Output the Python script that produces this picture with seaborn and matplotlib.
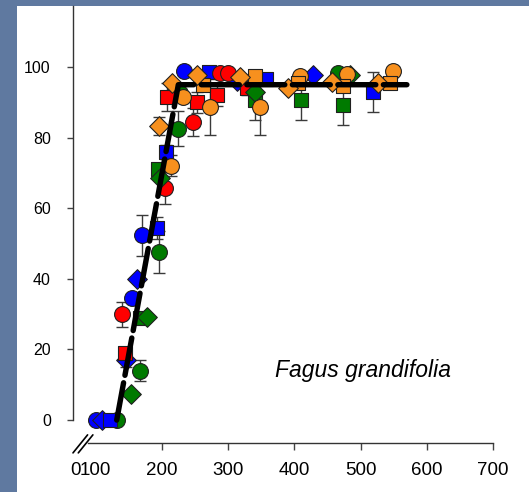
import matplotlib
matplotlib.use("Agg")
import matplotlib.pyplot as plt
from matplotlib.patches import Rectangle
import seaborn as sns
import pandas as pd

# ---- data: germination (%) vs. thermal time, Fagus grandifolia ----
# each series: x values, y values, y error (0 = no visible bar)
blue_circle_x = [101, 155, 170, 233]
blue_circle_y = [0, 34.6, 52.4, 99]
blue_circle_e = [0, 0, 5.8, 0]

blue_diamond_x = [110, 146, 163, 313, 428]
blue_diamond_y = [0, 17, 40, 96, 97.7]
blue_diamond_e = [0, 2, 0, 0, 0]

blue_square_x = [122, 193, 206, 271, 357, 519]
blue_square_y = [0, 54.4, 76, 98.6, 96.6, 93]
blue_square_e = [0, 3, 2, 0, 0, 5.7]

red_circle_x = [140, 205, 247, 288, 300]
red_circle_y = [30, 65.7, 84.5, 98.3, 98.3]
red_circle_e = [3.5, 4.5, 4, 0, 0]

red_square_x = [144, 208, 253, 283, 329]
red_square_y = [19, 91.5, 90, 92, 94]
red_square_e = [1.5, 4, 3, 3, 2]

green_circle_x = [132, 167, 196, 225, 227, 466]
green_circle_y = [0, 14, 47.6, 82.5, 92.6, 98.3]
green_circle_e = [0, 3, 6, 5, 0, 0]

green_square_x = [167, 194, 341, 410, 473]
green_square_y = [29, 71, 90.6, 90.6, 89.2]
green_square_e = [0, 0, 5.6, 5.7, 5.7]

green_diamond_x = [153, 178, 197, 341, 484]
green_diamond_y = [7.4, 29.2, 68.6, 93, 97.7]
green_diamond_e = [0, 0, 0, 0, 0]

orange_circle_x = [214, 232, 273, 348, 409, 479, 549]
orange_circle_y = [72, 91.5, 88.7, 88.7, 97.5, 98, 99]
orange_circle_e = [3, 0, 8, 8, 0, 0, 0]

orange_square_x = [262, 340, 406, 473, 545]
orange_square_y = [95, 97.5, 95.4, 94.6, 95.5]
orange_square_e = [0, 0, 0, 0, 0]

orange_diamond_x = [196, 215, 253, 318, 390, 457, 526]
orange_diamond_y = [83.3, 95.4, 97.7, 97.2, 94, 95.7, 95.5]
orange_diamond_e = [2.6, 0, 0, 0, 0, 0, 0]

# broken-stick fit
fit_x = [132, 225, 570]
fit_y = [0, 95, 95]

x_ticks = [69.5, 100, 200, 300, 400, 500, 600, 700]
x_tick_labels = ["0", "100", "200", "300", "400", "500", "600", "700"]
y_ticks = [0, 20, 40, 60, 80, 100]

series = [
    ("green", "o", green_circle_x, green_circle_y, green_circle_e),
    ("blue", "o", blue_circle_x, blue_circle_y, blue_circle_e),
    ("blue", "D", blue_diamond_x, blue_diamond_y, blue_diamond_e),
    ("blue", "s", blue_square_x, blue_square_y, blue_square_e),
    ("red", "s", red_square_x, red_square_y, red_square_e),
    ("red", "o", red_circle_x, red_circle_y, red_circle_e),
    ("green", "s", green_square_x, green_square_y, green_square_e),
    ("green", "D", green_diamond_x, green_diamond_y, green_diamond_e),
    ("orange", "o", orange_circle_x, orange_circle_y, orange_circle_e),
    ("orange", "s", orange_square_x, orange_square_y, orange_square_e),
    ("orange", "D", orange_diamond_x, orange_diamond_y, orange_diamond_e),
]

colors = {"blue": "#0000ff", "red": "#ff0000", "green": "#007a00", "orange": "#f7901e"}
sizes = {"o": 130, "s": 115, "D": 100}

sns.set_style("ticks")
plt.rcParams["font.family"] = ["Liberation Sans", "DejaVu Sans"]
plt.rcParams["text.color"] = "black"
plt.rcParams["xtick.labelcolor"] = "black"
plt.rcParams["ytick.labelcolor"] = "black"

W, H = 529, 492
fig = plt.figure(figsize=(W / 100, H / 100), dpi=100, facecolor="#5f79a0")
fig.patches.append(Rectangle((17 / W, 0), 1, 1 - 6 / H, transform=fig.transFigure,
                             facecolor="white", edgecolor="none", zorder=-10))
ax = fig.add_axes([73 / W, 1 - 443 / H, (493 - 73) / W, (443 - 6) / H])
ax.set_facecolor("none")

for col, mk, xs, ys, es in series:
    df = pd.DataFrame({"x": xs, "y": ys, "e": es})
    eb = df[df["e"] > 0]
    if len(eb):
        ax.errorbar(eb["x"], eb["y"], yerr=eb["e"], fmt="none", ecolor="#3a3a3a",
                    elinewidth=1.0, capsize=4.5, capthick=1.0, zorder=1)
    sns.scatterplot(data=df, x="x", y="y", marker=mk, s=sizes[mk], color=colors[col],
                    edgecolor="#202020", linewidth=0.8, ax=ax, zorder=2, legend=False)

fit = pd.DataFrame({"x": fit_x, "y": fit_y})
sns.lineplot(data=fit, x="x", y="y", color="black", linewidth=3.9, ax=ax, zorder=3,
             dashes=False, sort=False)
ax.lines[-1].set_dashes((7, 1.4))
ax.lines[-1].set_dash_capstyle("round")

ax.set_xlim(66, 700)
ax.set_ylim(-6.5, 117.3)
ax.set_xticks(x_ticks)
ax.set_xticklabels(x_tick_labels, fontsize=13.5, color="black")
ax.set_yticks(y_ticks)
ax.set_yticklabels([str(v) for v in y_ticks], fontsize=11.5, color="black")
ax.tick_params(axis="x", direction="out", length=5, width=1, pad=9, color="#444444")
ax.tick_params(axis="y", direction="out", length=4.5, width=1, pad=11.5, color="#444444")
for t in ax.xaxis.get_major_ticks()[:2]:
    t.tick1line.set_visible(False)

ax.set_xlabel("")
ax.set_ylabel("")
sns.despine(ax=ax)
ax.spines["left"].set_bounds(0, 117.3)
ax.spines["bottom"].set_bounds(88, 700)
for s in ("left", "bottom"):
    ax.spines[s].set_color("#333333")
    ax.spines[s].set_linewidth(1.0)

# axis break marks
for dx in (0, 8):
    ax.plot([66 + dx, 88 + dx], [-9.3, -4.2], color="black", linewidth=1.2,
            clip_on=False, zorder=4)

ax.text(504, 14, "Fagus grandifolia", style="italic", fontsize=16.5,
        ha="center", va="center", color="black")

fig.savefig("out.png", dpi=100, facecolor=fig.get_facecolor())
